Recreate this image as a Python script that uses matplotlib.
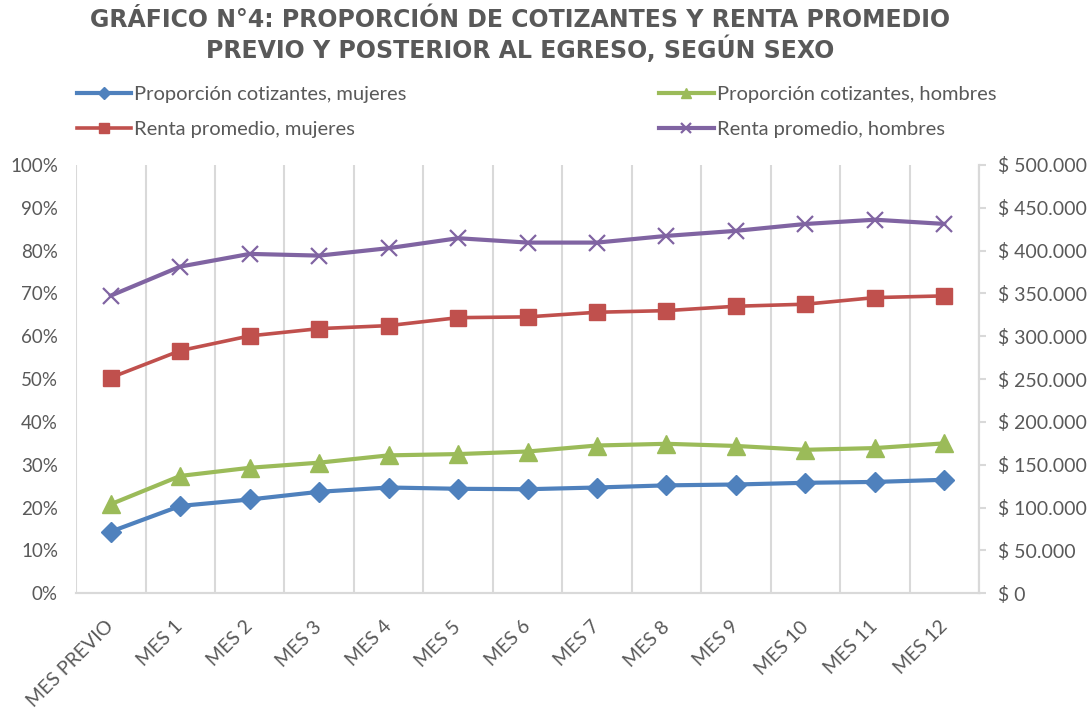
import matplotlib
matplotlib.use("Agg")
import matplotlib.pyplot as plt
from matplotlib.ticker import FuncFormatter, PercentFormatter

# categories and series
meses = ["MES PREVIO", "MES 1", "MES 2", "MES 3", "MES 4", "MES 5", "MES 6",
         "MES 7", "MES 8", "MES 9", "MES 10", "MES 11", "MES 12"]
cotiz_mujeres = [14.4, 20.4, 21.9, 23.7, 24.7, 24.4, 24.3, 24.7, 25.2, 25.4, 25.8, 26.0, 26.5]
cotiz_hombres = [20.8, 27.4, 29.3, 30.5, 32.2, 32.5, 33.1, 34.5, 34.9, 34.4, 33.5, 33.9, 35.0]
renta_mujeres = [251700, 283200, 300400, 308900, 312400, 321700, 322600, 328000, 329900,
                 335000, 337400, 345100, 347100]
renta_hombres = [347400, 381300, 396100, 394100, 402800, 414400, 409300, 409300, 417100,
                 423000, 431000, 436000, 431100]

GRAY = "#595959"
GRID = "#d9d9d9"
FONT = "Lato"

plt.rcParams["font.family"] = [FONT, "DejaVu Sans"]

fig = plt.figure(figsize=(10.88, 7.14), dpi=100)
ax = fig.add_axes([0.0699, 0.169, 0.8299, 0.6001])
ax2 = ax.twinx()

x = list(range(len(meses)))

l1, = ax.plot(x, cotiz_mujeres, color="#4F81BD", lw=3, marker="D", ms=10.5,
              label="Proporción cotizantes, mujeres", zorder=5)
l3, = ax.plot(x, cotiz_hombres, color="#9BBB59", lw=3, marker="^", ms=12.5,
              label="Proporción cotizantes, hombres", zorder=5)
l2, = ax2.plot(x, renta_mujeres, color="#C0504D", lw=2.6, marker="s", ms=11.5,
               label="Renta promedio, mujeres", zorder=5)
l4, = ax2.plot(x, renta_hombres, color="#8064A2", lw=3, marker="x", ms=11, mew=1.6,
               label="Renta promedio, hombres", zorder=5)

ax.set_xlim(-0.5, len(meses) - 0.5)
ax.set_ylim(0, 100)
ax.set_yticks(range(0, 101, 10))
ax.yaxis.set_major_formatter(PercentFormatter(decimals=0))
ax2.set_ylim(0, 500000)
ax2.set_yticks(range(0, 500001, 50000))
ax2.yaxis.set_major_formatter(FuncFormatter(lambda v, p: "$ " + f"{int(v):,}".replace(",", ".")))

# vertical gridlines between categories
for b in [i - 0.5 for i in range(len(meses) + 1)]:
    ax.axvline(b, color=GRID, lw=1.5, zorder=0)

ax.set_xticks(x)
ax.set_xticklabels(meses, rotation=45, ha="right", va="center", rotation_mode="anchor",
                   fontsize=14, color=GRAY)
ax.tick_params(axis="x", length=0, pad=22)
ax.tick_params(axis="y", length=0, labelsize=13.5, labelcolor=GRAY, pad=13)
ax2.tick_params(axis="y", length=5, width=1.5, color=GRID, labelsize=14, labelcolor=GRAY, pad=9)

for a in (ax, ax2):
    for s in ("top", "left"):
        a.spines[s].set_visible(False)
    a.spines["bottom"].set_color(GRID)
    a.spines["bottom"].set_linewidth(1.5)
    a.spines["right"].set_color(GRID)
    a.spines["right"].set_linewidth(1.5)

title_kw = dict(ha="center", va="center", fontsize=17, fontweight="bold", color=GRAY,
                family="DejaVu Sans")
fig.text(0.478, 0.972, "GRÁFICO N°4: PROPORCIÓN DE COTIZANTES Y RENTA PROMEDIO", **title_kw)
fig.text(0.478, 0.931, "PREVIO Y POSTERIOR AL EGRESO, SEGÚN SEXO", **title_kw)

fig.legend(handles=[l1, l2, l3, l4], loc="lower left", ncol=2, mode="expand",
           bbox_to_anchor=(0.063, 0.795, 0.86, 0.09), frameon=False,
           fontsize=14.5, labelcolor=GRAY, handlelength=2.7, handletextpad=0.15,
           labelspacing=0.9, borderaxespad=0, markerscale=0.6)

fig.savefig("out.png", dpi=100)
